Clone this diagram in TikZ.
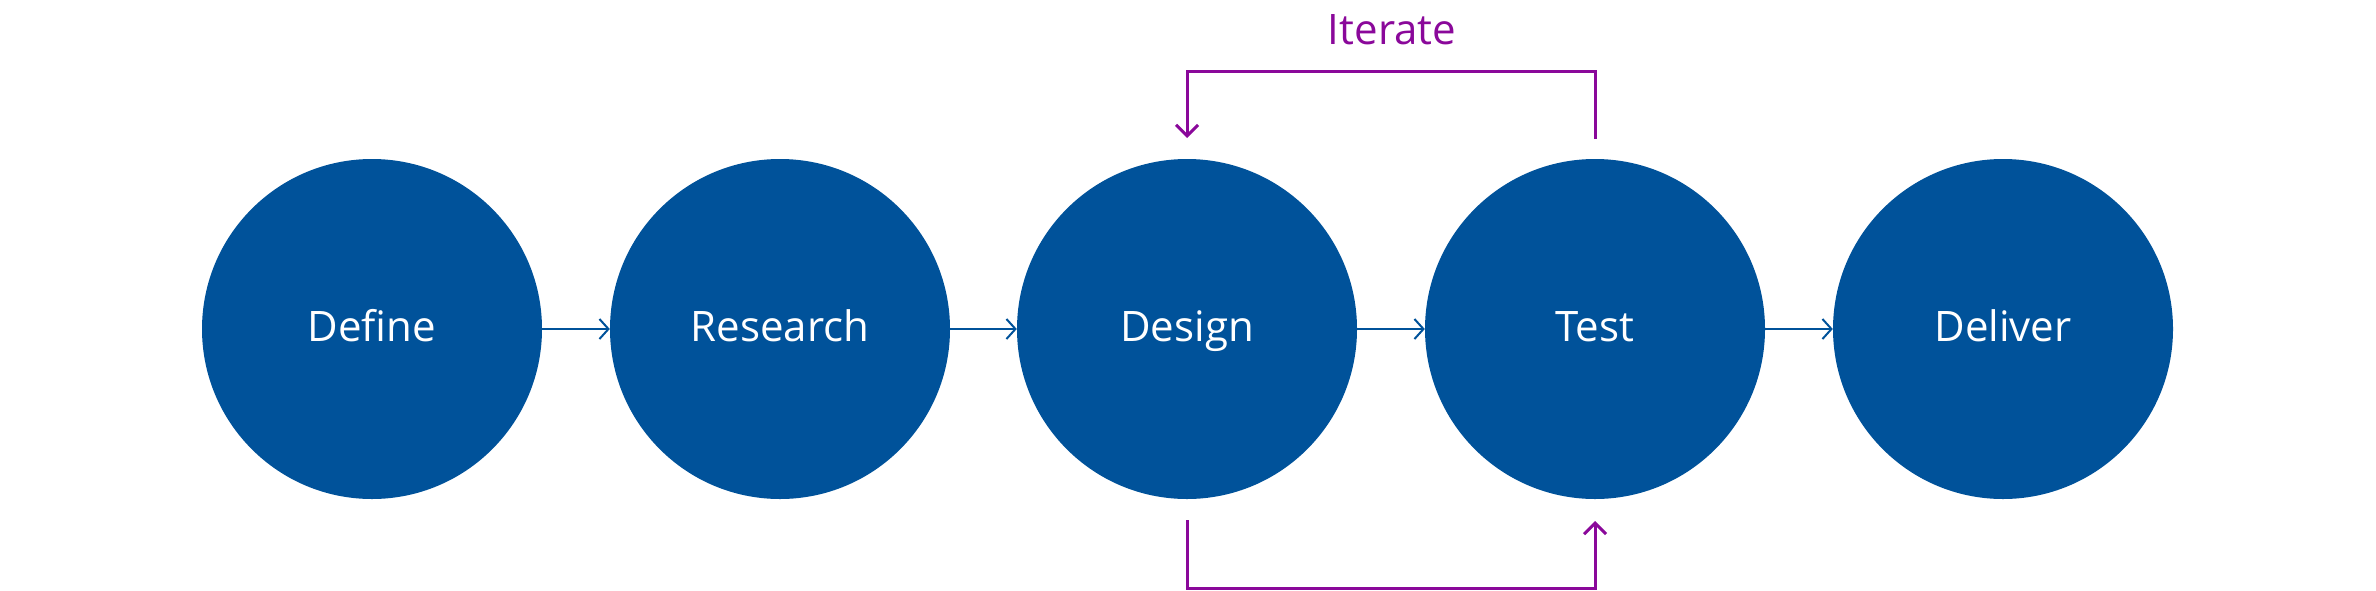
\documentclass[tikz,border=0pt]{standalone}
\usepackage{fontspec}
\setmainfont{Open Sans}
\usetikzlibrary{arrows.meta}
\definecolor{stageblue}{RGB}{0,82,154}
\definecolor{iterpurple}{RGB}{138,8,154}
\tikzset{
  stage/.style={circle, fill=stageblue, minimum size=340pt, inner sep=0pt, text=white, text height=30pt, text depth=6pt, font=\fontsize{42}{50}\selectfont},
  flow/.style={draw=stageblue, line width=2pt, -{Straight Barb[length=9pt,width=20pt,line width=2pt]}},
  loop/.style={draw=iterpurple, line width=3pt, -{Straight Barb[length=11pt,width=22pt,line width=3pt]}},
}
\begin{document}
\begin{tikzpicture}[x=1pt,y=-1pt]
\useasboundingbox (0,0) rectangle (2376,590);
\node[stage] (define)   at (372,329) {Define};
\node[stage] (research) at (780,329) {Research};
\node[stage] (design)   at (1187,329) {Design};
\node[stage] (test)     at (1595,329) {Test};
\node[stage] (deliver)  at (2003,329) {Deliver};
\draw[flow] (define) -- (research);
\draw[flow] (research) -- (design);
\draw[flow] (design) -- (test);
\draw[flow] (test) -- (deliver);
\coordinate (tstart) at (1595,139);
\coordinate (dend) at (1187,138);
\draw[loop] (tstart) -- (1595,71) -- (1187,71) -- (dend);
\coordinate (dstart) at (1187,520);
\coordinate (tend) at (1595,521);
\draw[loop] (dstart) -- (1187,588) -- (1595,588) -- (tend);
\node[text=iterpurple, font=\fontsize{42}{50}\selectfont] (iterate) at (1392,30) {Iterate};
\end{tikzpicture}
\end{document}
